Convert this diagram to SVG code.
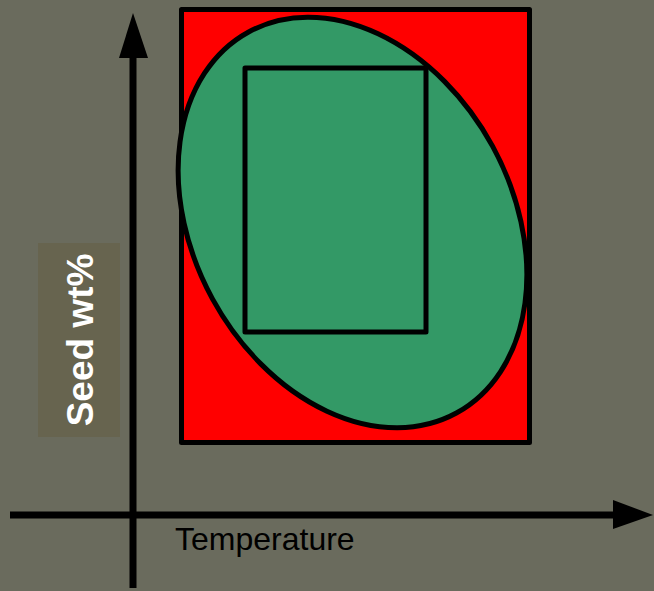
<svg xmlns="http://www.w3.org/2000/svg" width="654" height="591" viewBox="0 0 654 591">
<style>
.shape{stroke:#000;stroke-width:5;stroke-linejoin:round}
.axis{stroke:#000;stroke-width:7;fill:none}
.head{fill:#000}
</style>
<rect x="0" y="0" width="654" height="591" fill="#6a6b5d"/>
<g id="outer-region">
<rect class="shape" x="181.5" y="9.5" width="348" height="433" fill="#ff0000"/>
</g>
<g id="ellipse-region">
<ellipse class="shape" cx="352.5" cy="222.5" rx="217" ry="159.5" transform="rotate(61.4 352.5 222.5)" fill="#339966"/>
</g>
<g id="inner-region">
<rect class="shape" x="245" y="68" width="181" height="264" fill="#339966"/>
</g>
<g id="connectors">
<line class="axis" x1="133" y1="588" x2="133" y2="56"/>
<polygon class="head" points="133,13 119,58 148,58"/>
<line class="axis" x1="10" y1="515" x2="616" y2="515"/>
<polygon class="head" points="653,515 613,500 613,529"/>
</g>
<g id="y-label">
<rect x="38" y="243" width="82" height="194" fill="#67644f"/>
<text transform="translate(92.5 340) rotate(-90)" text-anchor="middle" font-family="Liberation Sans, Arial, sans-serif" font-weight="bold" font-size="37" fill="#ffffff">Seed wt%</text>
</g>
<g id="x-label">
<text x="175" y="550" font-family="Liberation Sans, Arial, sans-serif" font-size="32" fill="#000">Temperature</text>
</g>
</svg>
